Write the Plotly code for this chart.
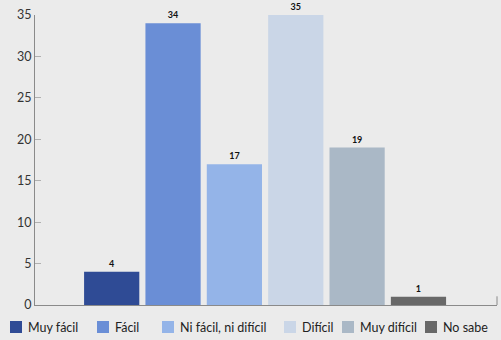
import plotly.graph_objects as go

categories = ["Muy fácil", "Fácil", "Ni fácil, ni difícil", "Difícil", "Muy difícil", "No sabe"]
values = [4, 34, 17, 35, 19, 1]
colors = ["#2f4b95", "#6a8ed6", "#94b4e8", "#cad6e7", "#aab8c6", "#686868"]
y_ticks = [0, 5, 10, 15, 20, 25, 30, 35]

BG = "#ebebeb"
FONT = "Lato, 'Open Sans', sans-serif"

fig = go.Figure()
for i, (c, v, col) in enumerate(zip(categories, values, colors)):
    fig.add_trace(go.Bar(
        x=[i], y=[v], name=c, width=0.9,
        marker=dict(color=col, line=dict(width=0)),
        text=[str(v)], textposition="outside",
        textfont=dict(family=FONT, size=9, color="#111111", weight="bold"),
        cliponaxis=False, showlegend=False,
    ))

# manual legend (squares + labels) below the plot
leg_x = [10, 97, 162, 284, 342, 425]  # px positions of legend squares
W, H = 501, 340
L, R, T, B = 35, 4, 15, 35
pw = W - L - R
ph = H - T - B
for px, c, col in zip(leg_x, categories, colors):
    x0 = (px - L) / pw
    x1 = (px + 12 - L) / pw
    y0 = (H - B - 333) / ph
    y1 = (H - B - 321) / ph
    fig.add_shape(type="rect", xref="paper", yref="paper",
                  x0=x0, x1=x1, y0=y0, y1=y1,
                  fillcolor=col, line=dict(width=0))
    fig.add_annotation(xref="paper", yref="paper", x=(px + 16 - L) / pw,
                       y=(H - B - 327) / ph,
                       text=c, showarrow=False, xanchor="left", yanchor="middle",
                       font=dict(family=FONT, size=12.5, color="#222222"))

# small tick at right end of x axis
fig.add_shape(type="line", xref="paper", yref="paper", x0=1, x1=1, y0=0, y1=0.03,
              line=dict(color="#8a8a8a", width=1))

fig.update_layout(
    width=W, height=H,
    margin=dict(l=L, r=R, t=T, b=B),
    paper_bgcolor=BG, plot_bgcolor=BG,
    barmode="overlay",
    font=dict(family=FONT, size=12, color="#333333"),
    xaxis=dict(range=[-1.25, 6.28], showticklabels=False, showgrid=False,
               zeroline=False, showline=True, linecolor="#8a8a8a", linewidth=1,
               ticks=""),
    yaxis=dict(range=[0, 35], tickvals=y_ticks, showgrid=False, zeroline=False,
               showline=True, linecolor="#8a8a8a", linewidth=1,
               ticks="inside", ticklen=6, tickcolor="#b0b0b0",
               tickfont=dict(family=FONT, size=12.5, color="#333333")),
)

fig.write_html("out.html", config={"displayModeBar": False},
               post_script="document.body.style.margin='0';")
